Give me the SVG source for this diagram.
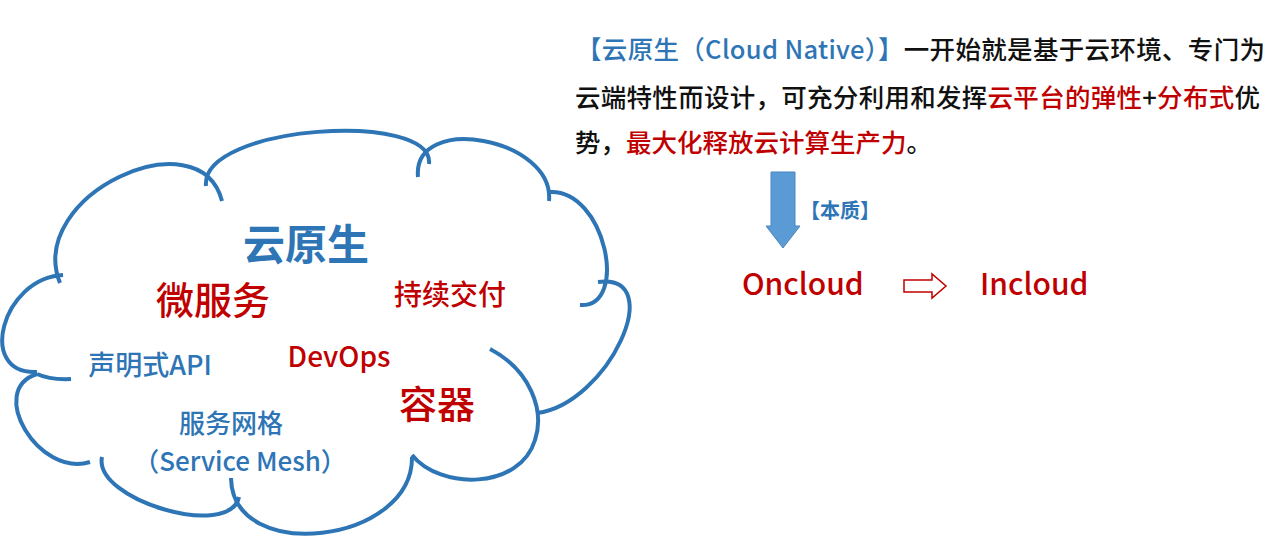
<svg xmlns="http://www.w3.org/2000/svg" width="1280" height="548" viewBox="0 0 1280 548">
<style>
.c{fill:none;stroke:#2e75b6;stroke-width:4;stroke-linecap:butt}
text{font-family:"Noto Sans CJK SC","Noto Sans",sans-serif;font-weight:500}
.b{fill:#2e75b6}.r{fill:#c00000}.k{fill:#111}
.bold{font-weight:700}
</style>
<rect width="1280" height="548" fill="#fff"/>
<g id="cloud">
<path class="c" d="M60,283 C25,195 200,115 222,201"/>
<path class="c" d="M206,186 C200,125 435,110 429,164"/>
<path class="c" d="M418,177 C412,112 555,138 549,201"/>
<path class="c" d="M549,192 C605,188 630,308 580,305"/>
<path class="c" d="M598,282 C669,273 608,404 537,413"/>
<path class="c" d="M490,349 C530,370 545,410 535,440 C520,490 440,490 412,455"/>
<path class="c" d="M412,457 C413,544 232,565 231,478"/>
<path class="c" d="M239,497 C230,540 93,500 102,457"/>
<path class="c" d="M90,462 C39,478 -14,390 37,374"/>
<path class="c" d="M37,374 Q50,380 71,379"/>
<path class="c" d="M37,372 C-24,375 2,278 63,275"/>
</g>
<g id="cloud-labels">
<text x="306" y="260" font-size="42" class="b bold" text-anchor="middle">云原生</text>
<text x="213" y="314" font-size="38" class="r" text-anchor="middle">微服务</text>
<text x="450" y="305" font-size="28" class="r" text-anchor="middle">持续交付</text>
<text x="150" y="375" font-size="27" class="b" text-anchor="middle">声明式API</text>
<text x="339" y="367" font-size="28" class="r" text-anchor="middle">DevOps</text>
<text x="437" y="418" font-size="38" class="r" text-anchor="middle">容器</text>
<text x="231" y="433" font-size="26" class="b" text-anchor="middle">服务网格</text>
<text x="240" y="471" font-size="26" class="b" text-anchor="middle">（Service Mesh）</text>
</g>
<g id="desc" font-size="25.5">
<text x="576" y="59" textLength="689" lengthAdjust="spacing"><tspan class="b">【云原生（Cloud Native）】</tspan><tspan class="k">一开始就是基于云环境、专门为</tspan></text>
<text x="575" y="107" textLength="685" lengthAdjust="spacing"><tspan class="k">云端特性而设计，可充分利用和发挥</tspan><tspan class="r">云平台的弹性</tspan><tspan class="k">+</tspan><tspan class="r">分布式</tspan><tspan class="k">优</tspan></text>
<text x="575" y="152"><tspan class="k">势，</tspan><tspan class="r">最大化释放云计算生产力</tspan><tspan class="k">。</tspan></text>
</g>
<g id="arrows">
<path d="M771,172 H795 V226 H800 L783,248 L766,226 H771 Z" fill="#5b9bd5" stroke="#4a85c0" stroke-width="1"/>
<path d="M904,280 H932 V274 L946,286 L932,298 V292 H904 Z" fill="#fff" stroke="#c00000" stroke-width="1.5"/>
</g>
<g id="labels">
<text x="800" y="218" font-size="20" class="b bold">【本质】</text>
<text x="742" y="295" font-size="30" class="r">Oncloud</text>
<text x="980" y="295" font-size="30" class="r">Incloud</text>
</g>
</svg>
